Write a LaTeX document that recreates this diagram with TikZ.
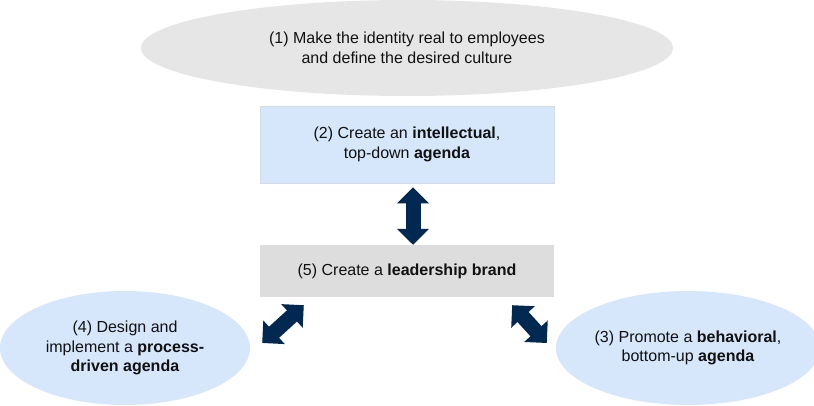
\documentclass[tikz,border=0pt]{standalone}
\usepackage{fontspec}
\setmainfont{Liberation Sans}
\usetikzlibrary{shapes.geometric,arrows.meta,calc}
\definecolor{ovalgray}{HTML}{E6E6E6}
\definecolor{boxgray}{HTML}{DDDDDD}
\definecolor{paleblue}{HTML}{D6E7FB}
\definecolor{bluerim}{HTML}{D3DCE6}
\definecolor{navy}{HTML}{002850}
\definecolor{ink}{HTML}{111111}
\begin{document}
\begin{tikzpicture}[x=1pt,y=-1pt,
  every node/.style={font=\fontsize{16}{19.5}\selectfont, text=ink, align=center, inner sep=0pt},
  oval/.style={ellipse, fill=#1, draw=none},
  panel/.style={rectangle, fill=#1, minimum width=294pt},
  blockarrow/.style={draw=navy, line width=15pt, {Triangle[width=31pt,length=16pt]}-{Triangle[width=31pt,length=16pt]}}
]
\useasboundingbox (0,0) rectangle (814,406);
\node[oval=ovalgray, minimum width=532pt, minimum height=96pt] (n1) at (407,48)
  {(1) Make the identity real to employees\\and define the desired culture};
\node[panel=paleblue, draw=bluerim, line width=0.8pt, minimum height=77pt] (n2) at (407,144.5)
  {(2) Create an \textbf{intellectual},\\top-down \textbf{agenda}};
\node[panel=boxgray, minimum height=52pt] (n5) at (407,271)
  {(5) Create a \textbf{leadership brand}};
\node[oval=paleblue, minimum width=250pt, minimum height=114pt] (n4) at (125,348)
  {(4) Design and\\implement a \textbf{process-}\\\textbf{driven agenda}};
\node[oval=paleblue, minimum width=250pt, minimum height=114pt] (n3) at (688,348)
  {(3) Promote a \textbf{behavioral},\\bottom-up \textbf{agenda}};
\coordinate (a2) at ($(n2.south)+(6,4)$);
\coordinate (a5) at ($(n5.north)+(6,0)$);
\coordinate (a5l) at ($(n5.south west)+(44,8)$);
\coordinate (a4) at ($(n4.east)+(12,-5)$);
\coordinate (a5r) at ($(n5.south east)+(-42,8)$);
\coordinate (a3) at ($(n3.west)+(-9,-5)$);
\draw[blockarrow] (a2) -- (a5);
\draw[blockarrow] (a5l) -- (a4);
\draw[blockarrow] (a5r) -- (a3);
\end{tikzpicture}
\end{document}
